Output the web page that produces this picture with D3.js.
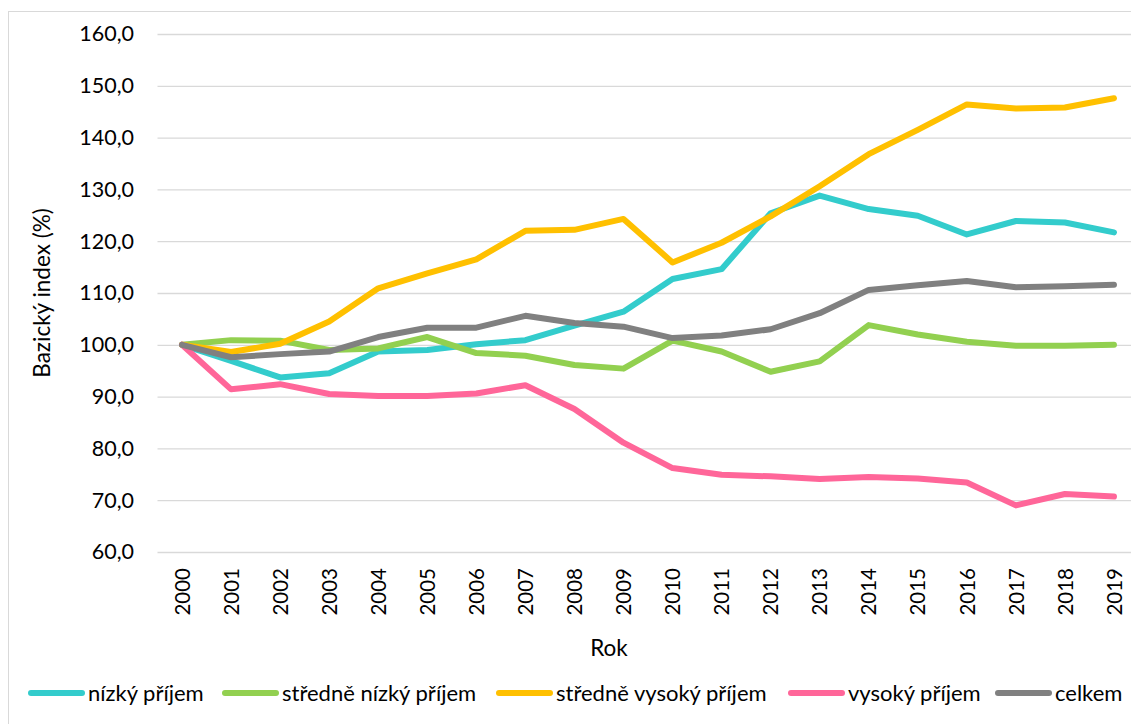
<!DOCTYPE html>
<html>
<head>
<meta charset="utf-8">
<script src="https://cdn.jsdelivr.net/npm/d3@7"></script>
<style>
  body { margin: 0; background: #fff; }
  text { font-family: Lato, "Open Sans", sans-serif; fill: #000; }
</style>
</head>
<body>
<div id="chart"></div>
<script>
var width = 1131;
var height = 724;

// data
var years = ["2000","2001","2002","2003","2004","2005","2006","2007","2008","2009",
             "2010","2011","2012","2013","2014","2015","2016","2017","2018","2019"];
var nizky = [100.0, 96.9, 93.7, 94.5, 98.7, 99.0, 100.1, 100.9, 103.7, 106.4,
             112.7, 114.6, 125.4, 128.8, 126.2, 124.9, 121.3, 123.9, 123.6, 121.7];
var stredneNizky = [100.0, 100.9, 100.8, 99.0, 99.3, 101.5, 98.4, 97.9, 96.1, 95.4,
                    100.8, 98.7, 94.8, 96.8, 103.8, 102.0, 100.6, 99.8, 99.8, 100.0];
var stredneVysoky = [100.0, 98.6, 100.2, 104.5, 110.9, 113.8, 116.5, 122.0, 122.2, 124.3,
                     115.9, 119.7, 124.8, 130.6, 136.8, 141.5, 146.4, 145.6, 145.8, 147.6];
var vysoky = [100.0, 91.4, 92.4, 90.5, 90.1, 90.1, 90.6, 92.2, 87.6, 81.1,
              76.2, 74.9, 74.6, 74.1, 74.5, 74.2, 73.4, 69.0, 71.2, 70.7];
var celkem = [100.0, 97.6, 98.2, 98.7, 101.5, 103.3, 103.3, 105.6, 104.2, 103.5,
              101.3, 101.8, 103.0, 106.1, 110.6, 111.5, 112.3, 111.1, 111.3, 111.6];
var seriesNames = ["nízký příjem", "středně nízký příjem", "středně vysoký příjem", "vysoký příjem", "celkem"];
var seriesColors = ["#33CCCC", "#92D050", "#FFC000", "#FF6699", "#808080"];
var yTicks = [60, 70, 80, 90, 100, 110, 120, 130, 140, 150, 160];

var allSeries = [nizky, stredneNizky, stredneVysoky, vysoky, celkem];

var svg = d3.select("#chart")
    .append("svg")
    .attr("width", width)
    .attr("height", height);

// chart border
svg.append("rect")
    .attr("x", 8.5)
    .attr("y", 11.5)
    .attr("width", 1200)
    .attr("height", 800)
    .attr("fill", "none")
    .attr("stroke", "#d9d9d9")
    .attr("stroke-width", 1);

var x = d3.scalePoint()
    .domain(years)
    .range([157.5, 1138.5])
    .padding(0.5);

var y = d3.scaleLinear()
    .domain([60, 160])
    .range([552, 34]);

// gridlines
svg.append("g")
    .attr("transform", "translate(157.5,0)")
    .call(d3.axisLeft(y).tickValues(yTicks).tickSize(-981).tickFormat(""))
    .call(function (g) {
        g.select(".domain").remove();
        g.selectAll("line").attr("stroke", "#d9d9d9").attr("stroke-width", 1.3);
    });

// y tick labels
svg.append("g")
    .attr("transform", "translate(134,0)")
    .call(d3.axisLeft(y).tickValues(yTicks).tickSize(0).tickPadding(0)
        .tickFormat(function (d) { return d3.format(".1f")(d).replace(".", ","); }))
    .call(function (g) {
        g.select(".domain").remove();
        g.selectAll("text")
            .attr("font-size", 21.5)
            .attr("font-family", "Lato, 'Open Sans', sans-serif")
            .attr("fill", "#000");
    });

// x tick labels, rotated
svg.append("g")
    .attr("transform", "translate(0,552)")
    .call(d3.axisBottom(x).tickSize(0).tickPadding(0))
    .call(function (g) {
        g.select(".domain").remove();
        g.selectAll("text")
            .attr("font-size", 20.5)
            .attr("font-family", "Lato, 'Open Sans', sans-serif")
            .attr("fill", "#000")
            .attr("text-anchor", "end")
            .attr("transform", "rotate(-90)")
            .attr("x", -16)
            .attr("y", 0)
            .attr("dy", "0.35em");
    });

// axis titles
svg.append("text")
    .attr("transform", "translate(50,293) rotate(-90)")
    .attr("text-anchor", "middle")
    .attr("font-size", 22.5)
    .text("Bazický index (%)");

svg.append("text")
    .attr("x", 609)
    .attr("y", 656)
    .attr("text-anchor", "middle")
    .attr("font-size", 22.5)
    .text("Rok");

// lines
var line = d3.line()
    .x(function (d, i) { return x(years[i]); })
    .y(function (d) { return y(d); });

for (var s = 0; s < allSeries.length; s++) {
    svg.append("path")
        .datum(allSeries[s])
        .attr("d", line)
        .attr("fill", "none")
        .attr("stroke", seriesColors[s])
        .attr("stroke-width", 6)
        .attr("stroke-linejoin", "round")
        .attr("stroke-linecap", "round");
}

// legend
var legendX = [28, 222, 496, 788, 995];
for (var k = 0; k < seriesNames.length; k++) {
    svg.append("line")
        .attr("x1", legendX[k] + 3)
        .attr("x2", legendX[k] + 54)
        .attr("y1", 693)
        .attr("y2", 693)
        .attr("stroke", seriesColors[k])
        .attr("stroke-width", 6)
        .attr("stroke-linecap", "round");

    svg.append("text")
        .attr("x", legendX[k] + 60)
        .attr("y", 700.5)
        .attr("font-size", 22)
        .text(seriesNames[k]);
}
</script>
</body>
</html>
